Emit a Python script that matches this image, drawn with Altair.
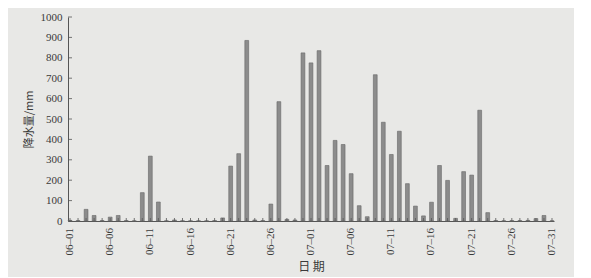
import altair as alt
import pandas as pd

dates = [f"06–{d:02d}" for d in range(1, 31)] + [f"07–{d:02d}" for d in range(1, 32)]
rain = [3, 2, 57, 27, 2, 19, 27, 2, 1, 139,
        318, 93, 1, 5, 1, 1, 1, 1, 2, 15,
        269, 330, 885, 5, 2, 83, 585, 8, 5, 824,
        775, 835, 272, 395, 375, 232, 75, 21, 717, 484,
        326, 440, 183, 73, 25, 92, 272, 199, 13, 242,
        225, 543, 41, 2, 1, 2, 2, 3, 12, 27, 1]
label_dates = dates[::5]
y_ticks = list(range(0, 1001, 100))

df = pd.DataFrame({"date": dates, "rain": rain})
ldf = pd.DataFrame({"date": label_dates})
ydf = pd.DataFrame({"v": y_ticks})

H = 204
W = 486
serif = "Liberation Serif"
cjk = "Noto Sans CJK SC"
axc = "#555555"
txc = "#3a3a3a"

xscale = alt.Scale(domain=dates, paddingInner=0.5, paddingOuter=0)
yscale = alt.Scale(domain=[0, 1000])

xaxis = alt.Axis(labels=False, ticks=False, domainColor=axc, domainWidth=1,
                 title="日  期", titleFont=cjk, titleFontSize=12,
                 titleFontWeight="normal", titleColor=txc, titlePadding=40)
yaxis = alt.Axis(values=y_ticks, format="d", labelFont=serif, labelFontSize=11,
                 labelColor=txc, tickSize=0, labelPadding=6,
                 labelOverlap=False, labelFlush=False, labelBound=False,
                 domainColor=axc, domainWidth=1, grid=False,
                 title="降水量/mm", titleFont=cjk, titleFontSize=11,
                 titleFontWeight="normal", titleColor=txc, titlePadding=6)

bars = alt.Chart(df).mark_bar(color="#8c8c8c", stroke="#666666", strokeWidth=0.6, size=3.8).encode(
    x=alt.X("date:O", sort=dates, scale=xscale, axis=xaxis),
    y=alt.Y("rain:Q", scale=yscale, axis=yaxis),
)

xticks = alt.Chart(df).mark_rule(color=axc, strokeWidth=0.8).encode(
    x=alt.X("date:O", sort=dates, scale=xscale, axis=xaxis),
    y=alt.value(H),
    y2=alt.value(H - 3),
)

xlabels = alt.Chart(ldf).mark_text(angle=270, align="right", baseline="middle",
                                   font=serif, fontSize=11, color=txc).encode(
    x=alt.X("date:O", sort=dates, scale=xscale, axis=xaxis),
    y=alt.value(H + 7),
    text="date:N",
)

yticks = alt.Chart(ydf).mark_rule(color=axc, strokeWidth=0.8).encode(
    y=alt.Y("v:Q", scale=yscale, axis=yaxis),
    x=alt.value(0),
    x2=alt.value(4),
)

chart = alt.layer(bars, xticks, xlabels, yticks).properties(
    width=W, height=H,
    autosize=alt.AutoSizeParams(type="none"),
    padding={"left": 60, "top": 9, "right": 20, "bottom": 56},
    background="#e8e8e6",
).configure_view(stroke=None).configure_axis(grid=False)

chart.save("out.html", embed_options={"renderer": "svg", "actions": False})
